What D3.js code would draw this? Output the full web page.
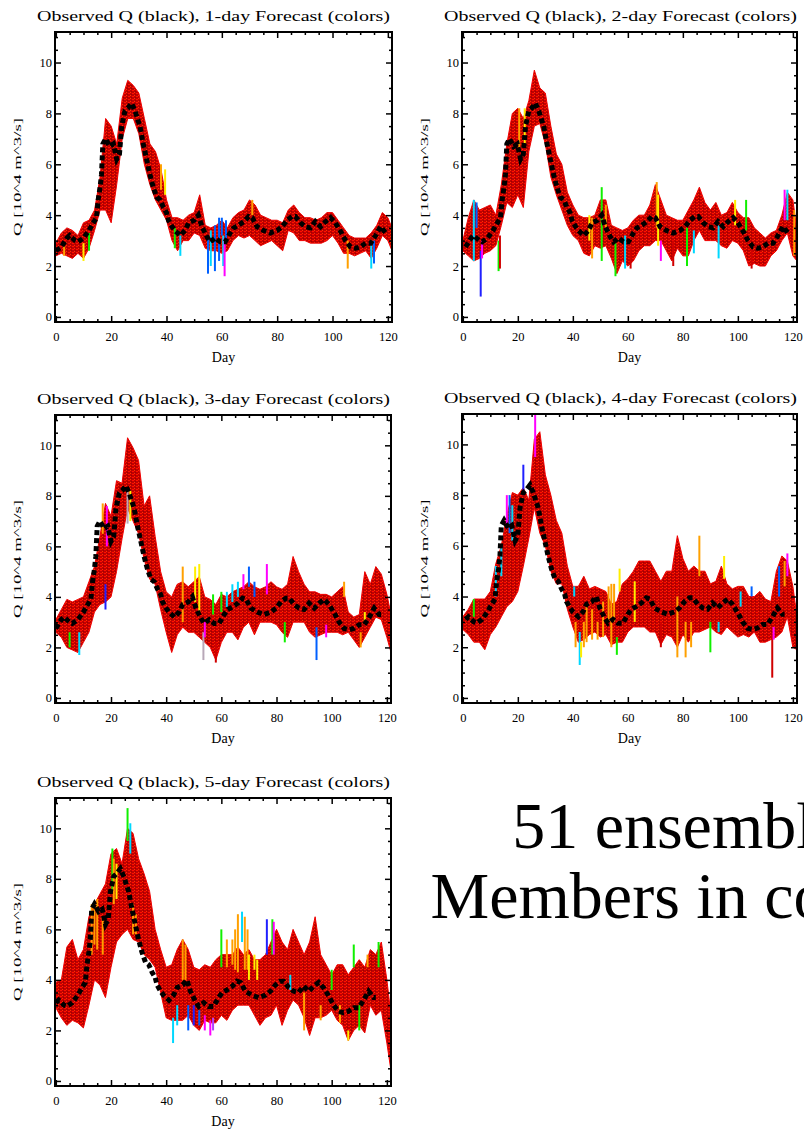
<!DOCTYPE html>
<html>
<head>
<meta charset="utf-8">
<title>Observed Q vs ensemble forecasts</title>
<style>
  body { margin: 0; background: #fff; }
  svg text { font-family: "Liberation Serif", "DejaVu Serif", serif; fill: #000; }
</style>
<script src="https://d3js.org/d3.v7.min.js"></script>
</head>
<body>
<svg id="chart" width="804" height="1134"></svg>
<script>
// ---- data ----
var leadDays = [1, 2, 3, 4, 5];
var xTicks = [0, 20, 40, 60, 80, 100, 120];
var yTicks = [0, 2, 4, 6, 8, 10];

// observed discharge, day axis of the 1-day panel
var obsDay = [0,2,4,5,7,8,10,12,13,14.7,15.3,16,16.5,17,18,19.5,20.8,22,23,23.8,25,26,27.4,28.6,30.4,31.6,32.8,34,35.2,36.5,37.7,38.9,40,40.7,42,43,45,46.7,48,50,51.5,52.8,54.6,55.8,57.6,59.4,61.2,63,64.3,66,68,69.7,71,72.7,75,77.5,80,81.8,83.6,85.4,86.6,88.4,90.2,92,93.8,95.7,97.5,99.3,101,103,104.7,106.5,108.3,110,112,113.8,115.6,117.4,119.2,120];
var obsQ = [2.6,2.75,3.1,3.2,3.0,2.95,3.1,3.4,3.6,3.9,4.6,5.1,5.6,6.8,7.0,6.7,6.8,6.2,6.4,7.5,8.1,8.2,8.4,8.1,7.5,6.8,6.2,5.6,5.1,4.7,4.6,4.3,4.1,3.8,3.55,3.4,3.2,3.4,3.7,3.8,4.0,3.55,3.15,2.95,3.1,2.95,2.95,3.3,3.5,3.6,3.75,3.95,3.9,3.55,3.4,3.3,3.4,3.55,3.8,3.95,3.95,3.7,3.55,3.5,3.75,3.55,3.75,3.9,3.7,3.35,3.0,2.75,2.7,2.75,2.9,2.9,3.2,3.55,3.3,3.3];

// ensemble spread (low / high edge of the red mass) every 2 days
var ensDay = [0,2,4,6,8,10,12,14,16,18,20,22,24,26,28,30,32,34,36,38,40,42,44,46,48,50,52,54,56,58,60,62,64,66,68,70,72,74,76,78,80,82,84,86,88,90,92,94,96,98,100,102,104,106,108,110,112,114,116,118,120,121.5];

var lo1 = [2.4,2.5,2.4,2.3,2.5,2.3,2.7,3.4,4.2,4.2, 3.7,5.2,7.0,7.8,7.8,7.2,6.0,5.2,4.6,4.2, 3.8,3.0,2.6,3.0,3.0,3.3,3.2,2.7,2.6,2.6, 2.5,2.6,3.0,3.2,3.1,3.2,3.0,2.8,2.9,3.0, 2.8,2.6,3.4,3.3,3.0,3.0,2.9,2.9,2.9,3.0, 3.2,2.9,2.5,2.5,2.4,2.5,2.6,2.3,2.7,3.2, 3.0,2.6];
var hi1 = [2.9,3.3,3.5,3.4,3.2,3.7,3.8,4.2,5.5,7.8, 7.5,6.8,8.6,9.3,9.1,8.8,7.8,6.8,6.5,5.8, 4.6,3.9,3.9,3.8,4.0,4.1,4.8,3.6,3.5,3.6, 3.8,3.5,3.9,4.1,4.2,4.6,4.4,4.0,3.9,3.8, 3.8,3.7,4.2,4.4,4.1,3.9,3.9,3.8,3.9,4.1, 4.1,3.8,3.5,3.2,3.1,3.1,3.1,3.3,3.6,4.1, 3.9,3.5];

var lo2 = [2.6,2.4,2.2,2.3,2.5,2.6,2.8,3.6,4.5,4.3, 4.8,4.3,6.5,7.5,7.6,6.8,5.5,4.8,4.2,3.6, 3.2,3.0,2.5,2.4,2.8,2.7,2.8,2.3,1.7,2.2, 2.0,2.2,2.6,2.8,2.8,3.0,3.0,2.6,2.2,2.7, 2.4,2.4,3.0,3.4,3.0,3.0,3.0,2.8,2.7,3.0, 2.9,2.6,2.0,2.1,2.0,2.0,2.4,2.6,3.0,3.3, 2.4,2.2];
var hi2 = [3.0,3.9,4.6,4.2,4.3,4.4,4.0,5.2,6.8,8.0, 8.2,7.8,8.5,9.7,9.0,8.8,7.5,6.4,6.0,4.9, 4.4,4.0,3.9,3.9,4.0,4.6,4.6,3.6,3.5,3.4, 3.5,3.8,4.0,4.0,4.4,5.2,4.6,4.0,3.9,3.8, 3.8,4.2,4.6,5.1,4.5,4.2,4.5,4.0,4.1,4.5, 4.1,3.9,3.9,3.5,3.3,3.1,3.3,3.4,4.0,4.9, 4.6,3.4];

var lo3 = [2.6,2.4,2.0,1.9,1.8,2.2,2.6,3.4,3.7,3.8, 4.0,5.0,6.3,7.5,7.0,6.5,5.5,4.7,4.5,3.5, 2.6,1.8,2.5,2.8,2.6,2.6,2.4,2.2,2.0,1.5, 2.2,2.6,2.6,2.3,2.8,3.0,2.5,3.0,3.0,3.0, 2.9,2.6,2.4,3.0,3.0,3.0,2.6,2.4,2.5,2.6, 2.6,2.6,2.5,2.6,2.3,2.0,2.4,2.8,3.2,3.1, 2.4,1.8];
var hi3 = [3.1,3.5,3.9,3.8,3.9,4.0,4.6,5.2,6.4,7.7, 7.2,8.6,8.5,10.3,9.9,9.4,7.6,8.0,6.4,5.0, 4.2,4.0,4.5,4.6,4.4,4.6,4.8,4.0,3.9,3.7, 4.1,4.0,4.2,4.3,4.4,4.6,4.4,4.3,4.4,4.6, 4.4,4.3,4.5,5.6,5.0,4.5,4.2,4.2,4.1,4.1, 4.0,4.2,4.4,3.4,3.2,3.3,5.0,4.5,5.2,4.9, 4.1,3.3];

var lo4 = [2.7,2.5,2.2,2.2,1.9,2.5,2.8,3.2,3.6,3.8, 4.2,5.2,6.3,7.5,6.5,6.0,5.0,4.5,4.5,3.5, 2.8,2.2,2.3,2.5,2.6,2.4,2.5,2.1,2.2,2.2, 2.6,2.8,2.8,2.8,2.6,2.6,2.1,2.5,2.4,2.0, 2.5,2.2,2.6,2.6,2.7,2.8,2.6,2.5,2.8,2.6, 2.4,2.5,2.4,2.6,2.2,2.2,2.3,2.4,2.6,3.2, 2.0,1.9];
var hi4 = [3.2,3.5,3.9,3.9,3.9,4.2,5.3,6.0,7.2,8.1, 8.0,8.3,7.8,10.2,10.5,8.8,8.0,7.0,6.5,5.2, 4.4,4.4,4.8,4.3,4.4,4.3,4.2,3.7,3.8,4.5, 4.7,5.0,5.4,5.4,5.4,5.0,4.6,5.0,5.0,6.4, 5.5,5.0,5.2,5.0,5.0,4.5,4.6,5.2,4.5,4.3, 4.4,4.4,4.0,4.0,4.2,3.9,3.8,5.0,5.6,5.4, 4.4,3.2];

var lo5 = [2.9,2.5,2.2,2.4,2.3,2.1,3.0,4.0,3.8,3.3, 4.5,5.5,5.8,6.0,5.6,5.5,5.0,4.8,4.5,3.5, 2.5,2.4,2.4,2.4,2.6,2.2,2.0,2.4,2.3,2.3, 2.6,2.4,2.8,3.0,3.0,3.0,2.6,2.2,2.5,2.6, 3.0,2.2,2.8,3.2,3.0,2.5,1.8,2.5,2.5,2.6, 2.8,2.4,2.2,1.6,2.0,2.2,1.9,3.0,2.6,2.8, 1.5,0.4];
var hi5 = [3.9,4.0,5.3,5.6,4.8,5.2,6.5,7.0,7.4,7.8, 9.0,9.2,8.6,10.0,9.8,8.8,8.2,7.5,6.0,5.2, 4.5,4.6,5.2,5.6,5.2,4.5,4.4,4.6,4.5,4.8, 5.0,5.0,5.0,5.3,5.0,5.2,4.8,4.8,5.0,5.5, 6.0,5.5,5.2,6.0,5.5,5.0,5.5,6.5,5.0,4.6, 4.2,4.6,4.6,4.2,4.5,4.8,4.5,5.2,5.0,5.5, 4.0,2.6];

// single members that stick out of the red mass: [day, low, high, member colour]
var spikes1 = [[3,2.4,2.9,"orange"],[10,2.2,2.9,"yellow"],[12,2.6,3.3,"green"],[38,5.0,6.0,"orange"],[39.5,4.8,5.8,"yellow"],[43,2.7,3.5,"green"],[45,2.4,3.2,"cyan"],[55,1.7,3.2,"blue"],[56,2.0,3.4,"cyan"],[57.5,1.8,3.6,"blue"],[59,2.2,3.9,"blue"],[60,3.2,3.9,"blue"],[60.5,2.0,3.2,"cyan"],[61,1.6,3.1,"magenta"],[61.5,3.0,3.8,"blue"],[71,4.0,4.6,"orange"],[105.5,1.9,3.0,"orange"],[114,1.9,3.0,"cyan"],[115,2.1,3.0,"blue"]];
var spikes2 = [[4,2.2,4.6,"cyan"],[5,3.5,4.5,"blue"],[6.5,0.8,2.6,"navy"],[7,2.3,3.0,"magenta"],[13,1.8,3.0,"green"],[13.5,1.9,3.2,"red"],[20.5,6.5,8.2,"orange"],[22.5,6.8,8.2,"yellow"],[46,3.0,4.0,"yellow"],[47,2.3,3.9,"orange"],[50.5,2.2,5.1,"green"],[52,3.5,4.4,"orange"],[55.5,1.6,2.9,"green"],[59,1.9,3.2,"cyan"],[61,1.9,2.8,"red"],[70.5,3.5,5.3,"orange"],[71,2.8,4.8,"yellow"],[72,2.2,3.0,"magenta"],[76.5,2.0,3.0,"red"],[81.5,2.0,3.5,"green"],[84,2.5,3.4,"cyan"],[93,2.3,3.6,"cyan"],[99,3.6,4.6,"yellow"],[103,3.4,4.6,"green"],[105,1.9,2.8,"red"],[117,3.8,5.0,"magenta"],[118,3.8,5.0,"cyan"],[120.5,2.4,4.2,"orange"]];
var spikes3 = [[5,2.0,2.6,"green"],[8.5,1.7,2.6,"cyan"],[17,6.5,7.7,"orange"],[18,3.5,4.5,"navy"],[18.5,6.0,7.6,"magenta"],[26,6.9,8.2,"grey"],[27,7.0,8.2,"yellow"],[46,3.0,5.2,"orange"],[50.5,3.8,5.2,"yellow"],[52,3.4,5.3,"yellow"],[53.5,1.5,2.6,"grey"],[54,2.4,3.0,"magenta"],[57,3.3,4.1,"green"],[58,1.4,2.2,"red"],[60,3.4,4.2,"green"],[62,3.6,4.2,"cyan"],[64,3.8,4.5,"cyan"],[66,4.0,4.6,"cyan"],[68,4.3,4.9,"magenta"],[70,4.4,5.2,"blue"],[72,4.0,4.6,"blue"],[76.5,4.1,5.3,"magenta"],[83,2.2,3.0,"green"],[94.5,1.5,2.8,"blue"],[98,2.4,2.9,"magenta"],[104.5,4.0,4.6,"orange"],[110.5,2.0,2.6,"orange"],[112,3.0,3.4,"yellow"]];
var spikes4 = [[4,3.2,3.9,"green"],[12,4.0,5.2,"cyan"],[14,4.8,6.0,"cyan"],[16,6.8,8.0,"magenta"],[17,6.5,8.0,"blue"],[18,6.2,7.6,"cyan"],[22,8.0,9.2,"navy"],[26.3,9.5,11.2,"magenta"],[40.5,4.0,4.4,"cyan"],[41,2.0,3.0,"orange"],[42.5,1.3,2.6,"cyan"],[43,1.6,2.2,"yellow"],[44,2.0,3.0,"orange"],[45,2.2,3.6,"orange"],[47,2.3,3.5,"orange"],[49,2.3,3.0,"orange"],[51,2.4,3.8,"orange"],[53,3.0,4.4,"orange"],[54,2.0,4.5,"orange"],[55,3.0,4.5,"orange"],[56,1.7,2.4,"green"],[57,4.2,5.1,"yellow"],[62.5,3.0,4.6,"yellow"],[72,2.0,3.0,"red"],[78,1.6,4.0,"orange"],[81,1.6,3.0,"orange"],[83,2.0,3.0,"orange"],[86,4.8,6.4,"orange"],[90,1.8,3.0,"green"],[93,2.6,3.0,"cyan"],[95,4.7,5.6,"yellow"],[101,3.6,4.2,"cyan"],[105,4.0,4.4,"blue"],[112.5,0.8,2.5,"red"],[113,2.3,2.8,"magenta"],[115,4.0,5.2,"blue"],[117,4.4,5.4,"orange"],[118,4.8,5.7,"magenta"]];
var spikes5 = [[13,5.0,7.0,"orange"],[14,5.4,7.0,"orange"],[15,5.2,7.2,"orange"],[17,5.0,6.5,"orange"],[20.5,7.5,9.2,"green"],[21,7.0,8.8,"orange"],[22,7.2,8.6,"yellow"],[26,9.5,10.8,"green"],[27,9.0,10.2,"cyan"],[28,5.8,7.0,"orange"],[29,5.8,6.6,"orange"],[42.5,1.5,2.5,"cyan"],[44,2.2,3.0,"cyan"],[46,4.0,5.6,"orange"],[47,4.0,5.4,"orange"],[48,2.0,3.0,"blue"],[50,2.2,3.0,"navy"],[52,2.2,2.8,"blue"],[54,2.0,2.6,"magenta"],[56,1.8,2.4,"magenta"],[57,2.0,2.5,"purple"],[60,4.5,6.0,"green"],[62,4.5,5.6,"orange"],[64,4.6,5.6,"orange"],[65,4.4,6.0,"orange"],[66,4.3,6.6,"orange"],[67.5,5.5,6.7,"cyan"],[68.5,4.4,6.5,"orange"],[69.5,4.4,6.0,"orange"],[70,4.0,5.0,"yellow"],[72,4.4,5.0,"yellow"],[73,4.0,4.8,"yellow"],[76.5,5.0,6.4,"navy"],[78.5,5.0,6.4,"green"],[79,5.0,6.3,"magenta"],[85,3.6,4.2,"cyan"],[90,2.0,3.5,"orange"],[96,2.4,3.0,"orange"],[100,3.6,4.4,"green"],[103,2.3,3.0,"orange"],[106,1.6,2.0,"yellow"],[108,4.5,5.4,"green"],[110,2.0,3.0,"green"],[113,4.5,5.0,"orange"],[117,4.5,5.5,"green"]];

// ---- layout ----
var boxes = [
  {left: 55,  right: 392, top: 32,  bottom: 322},
  {left: 462, right: 797, top: 32,  bottom: 322},
  {left: 55,  right: 391, top: 415, bottom: 703},
  {left: 462, right: 797, top: 414, bottom: 703},
  {left: 55,  right: 391, top: 798, bottom: 1086}
];
var lows = [lo1, lo2, lo3, lo4, lo5];
var highs = [hi1, hi2, hi3, hi4, hi5];
var spikes = [spikes1, spikes2, spikes3, spikes4, spikes5];

var memberColor = d3.scaleOrdinal()
  .domain(["orange","yellow","green","cyan","blue","navy","magenta","purple","grey","red"])
  .range(["#ffa000","#ffee00","#10f000","#00d8ff","#0060ff","#2020ff","#ff00ff","#b040ff","#b8a8b8","#d00000"]);

var svg = d3.select("#chart");
svg.append("rect").attr("width", 804).attr("height", 1134).attr("fill", "#fff");

// speckled red texture for the bulk of the members
var defs = svg.append("defs");
var pat = defs.append("pattern").attr("id", "ens").attr("patternUnits", "userSpaceOnUse")
  .attr("width", 4).attr("height", 3);
pat.append("rect").attr("width", 4).attr("height", 3).attr("fill", "#c00000");
pat.append("rect").attr("x", 0).attr("y", 0).attr("width", 2).attr("height", 1).attr("fill", "#ff1000");
pat.append("rect").attr("x", 2).attr("y", 2).attr("width", 1).attr("height", 1).attr("fill", "#ff3000");
pat.append("rect").attr("x", 3).attr("y", 1).attr("width", 1).attr("height", 1).attr("fill", "#a00000");

leadDays.forEach(function(lead, i) {
  var b = boxes[i];
  var x = d3.scaleLinear().domain([-0.3, 121.5]).range([b.left, b.right]);
  var y = d3.scaleLinear().domain([-0.2, 11.2]).range([b.bottom, b.top]);
  var g = svg.append("g");

  defs.append("clipPath").attr("id", "clip" + i)
    .append("rect").attr("x", b.left).attr("y", b.top)
    .attr("width", b.right - b.left).attr("height", b.bottom - b.top);
  var plot = g.append("g").attr("clip-path", "url(#clip" + i + ")");

  // ensemble spread
  var ens = ensDay.map(function(d, k) { return {day: d, lo: lows[i][k], hi: highs[i][k]}; });
  var area = d3.area().x(function(d) { return x(d.day); })
    .y0(function(d) { return y(d.lo); }).y1(function(d) { return y(d.hi); });
  plot.append("path").datum(ens).attr("d", area)
    .attr("fill", "url(#ens)").attr("stroke", "#f00000").attr("stroke-width", 1);

  // members poking out
  plot.selectAll(".spike").data(spikes[i]).enter().append("line")
    .attr("x1", function(d) { return x(d[0]); }).attr("x2", function(d) { return x(d[0]); })
    .attr("y1", function(d) { return y(d[1]); }).attr("y2", function(d) { return y(d[2]); })
    .attr("stroke", function(d) { return memberColor(d[3]); })
    .attr("stroke-width", 2);

  // observed, moved back by the lead time
  var shift = lead - 1;
  var obs = obsDay.map(function(d, k) { return {day: d - shift, q: obsQ[k]}; })
    .filter(function(d) { return d.day >= -0.3; });
  plot.append("path").datum(obs)
    .attr("d", d3.line().x(function(d) { return x(d.day); }).y(function(d) { return y(d.q); }))
    .attr("fill", "none").attr("stroke", "#000").attr("stroke-width", 5)
    .attr("stroke-dasharray", "5,3");

  // axes, ticks pointing inward on all four sides
  var xMinor = d3.range(0, 121, 5).filter(function(v) { return v % 20; });
  var yMinor = d3.range(0, 11.01, 0.5).filter(function(v) { return v % 2; });
  function tidy(sel) {
    sel.select(".domain").remove();
    sel.selectAll("line").attr("stroke-width", 1.5);
    sel.selectAll("text").attr("font-size", 12.5).attr("font-family", "Liberation Serif, serif");
  }
  g.append("g").attr("transform", "translate(0," + b.bottom + ")")
    .call(d3.axisBottom(x).tickValues(xTicks).tickSize(-6).tickPadding(10)).call(tidy);
  g.append("g").attr("transform", "translate(0," + b.bottom + ")")
    .call(d3.axisBottom(x).tickValues(xMinor).tickSize(-3).tickFormat("")).call(tidy);
  g.append("g").attr("transform", "translate(0," + b.top + ")")
    .call(d3.axisTop(x).tickValues(xTicks).tickSize(-6).tickFormat("")).call(tidy);
  g.append("g").attr("transform", "translate(0," + b.top + ")")
    .call(d3.axisTop(x).tickValues(xMinor).tickSize(-3).tickFormat("")).call(tidy);
  g.append("g").attr("transform", "translate(" + b.left + ",0)")
    .call(d3.axisLeft(y).tickValues(yTicks).tickSize(-6).tickPadding(3)).call(tidy);
  g.append("g").attr("transform", "translate(" + b.left + ",0)")
    .call(d3.axisLeft(y).tickValues(yMinor).tickSize(-3).tickFormat("")).call(tidy);
  g.append("g").attr("transform", "translate(" + b.right + ",0)")
    .call(d3.axisRight(y).tickValues(yTicks).tickSize(-6).tickFormat("")).call(tidy);
  g.append("g").attr("transform", "translate(" + b.right + ",0)")
    .call(d3.axisRight(y).tickValues(yMinor).tickSize(-3).tickFormat("")).call(tidy);

  g.append("rect").attr("x", b.left).attr("y", b.top)
    .attr("width", b.right - b.left).attr("height", b.bottom - b.top)
    .attr("fill", "none").attr("stroke", "#000").attr("stroke-width", 2);

  // labels
  g.append("text").attr("x", b.left - 18).attr("y", b.top - 11)
    .attr("font-size", 15).attr("textLength", 353).attr("lengthAdjust", "spacingAndGlyphs")
    .text("Observed Q (black), " + lead + "-day Forecast (colors)");
  g.append("text").attr("x", (b.left + b.right) / 2).attr("y", b.bottom + 40)
    .attr("text-anchor", "middle").attr("font-size", 14).text("Day");
  g.append("text")
    .attr("transform", "translate(" + (b.left - 38) + "," + ((b.top + b.bottom) / 2) + ") rotate(-90)")
    .attr("text-anchor", "middle").attr("dy", "0.35em").attr("font-size", 11)
    .attr("textLength", 118).attr("lengthAdjust", "spacingAndGlyphs")
    .text("Q [10^4 m^3/s]");
});

// note in the empty sixth slot (runs off the right edge as in the original)
var note = svg.append("text").attr("text-anchor", "middle").attr("font-size", 66);
note.append("tspan").attr("x", 678).attr("y", 848).text("51 ensemble");
note.append("tspan").attr("x", 678).attr("y", 918).text("Members in colors");
</script>
</body>
</html>
